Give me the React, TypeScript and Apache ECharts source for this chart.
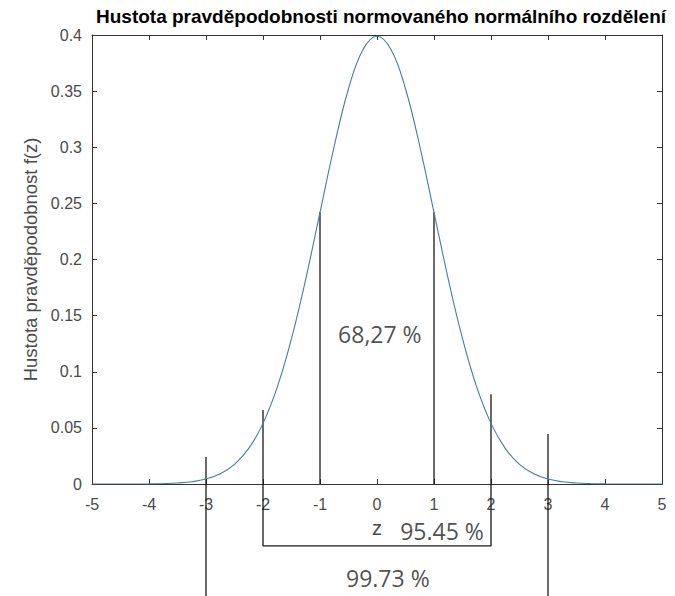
import React, { useEffect, useRef } from "react";
import * as echarts from "echarts";

const title = "Hustota pravděpodobnosti normovaného normálního rozdělení";
const yName = "Hustota pravděpodobnost f(z)";
const xName = "z";

// z values and density
const zValues = [
  -5, -4.75, -4.5, -4.25, -4, -3.75, -3.5, -3.25, -3, -2.75, -2.5, -2.25, -2, -1.75, -1.5, -1.25, -1, -0.75, -0.5, -0.25,
  0, 0.25, 0.5, 0.75, 1, 1.25, 1.5, 1.75, 2, 2.25, 2.5, 2.75, 3, 3.25, 3.5, 3.75, 4, 4.25, 4.5, 4.75, 5,
];
const density = [
  0, 0, 0, 0, 0.0001, 0.0004, 0.0009, 0.002, 0.0044, 0.0091, 0.0175, 0.0317, 0.054, 0.0863, 0.1295, 0.1826, 0.242, 0.3011, 0.3521, 0.3867,
  0.3989, 0.3867, 0.3521, 0.3011, 0.242, 0.1826, 0.1295, 0.0863, 0.054, 0.0317, 0.0175, 0.0091, 0.0044, 0.002, 0.0009, 0.0004, 0.0001, 0, 0, 0, 0,
];

// annotation lines (x, top, bottom) in data units
const sigma1X = [-1, 1];
const sigma1Top = [0.242, 0.242];
const sigma1Bottom = [0, 0];
const sigma3X = [-3, 3];
const sigma3Top = [0.024, 0.0445];
const sigma3Bottom = [-0.1, -0.1];
// bracket for ±2
const bracketX = [-2, -2, 2, 2];
const bracketY = [0.066, -0.0552, -0.0552, 0.08];

// percentage labels (x, y, text)
const pctX = [0.05, 1.14, 0.19];
const pctY = [0.134, -0.042, -0.084];
const pctText = ["68,27 %", "95.45 %", "99.73 %"];

export default function App() {
  const ref = useRef<HTMLDivElement>(null);
  useEffect(() => {
    if (!ref.current) return;
    const chart = echarts.init(ref.current, null, { renderer: "svg" });
    const axisColor = "#333333";
    const labelColor = "#4a4a4a";
    const blackLine = { color: "#1a1a1a", width: 1.3 };
    const lineSeries: any[] = [];
    sigma1X.forEach((x, i) => {
      lineSeries.push({
        type: "line",
        data: [[x, sigma1Top[i]], [x, sigma1Bottom[i]]],
        symbol: "none",
        clip: false,
        lineStyle: blackLine,
        silent: true,
        z: 3,
      });
    });
    sigma3X.forEach((x, i) => {
      lineSeries.push({
        type: "line",
        data: [[x, sigma3Top[i]], [x, sigma3Bottom[i]]],
        symbol: "none",
        clip: false,
        lineStyle: blackLine,
        silent: true,
        z: 3,
      });
    });
    lineSeries.push({
      type: "line",
      data: bracketX.map((x, i) => [x, bracketY[i]]),
      symbol: "none",
      clip: false,
      lineStyle: blackLine,
      silent: true,
      z: 3,
    });

    chart.setOption({
      animation: false,
      backgroundColor: "#ffffff",
      title: {
        text: title,
        left: 376,
        top: 2,
        textAlign: "center",
        textStyle: { fontFamily: "Liberation Sans", fontWeight: "bold", fontSize: 19, color: "#000000" },
      },
      grid: { left: 92, right: 13, top: 35, bottom: 112 },
      xAxis: [
        {
          type: "value",
          min: -5,
          max: 5,
          interval: 1,
          name: xName,
          nameLocation: "middle",
          nameGap: 34,
          nameTextStyle: { fontFamily: "Liberation Sans", fontSize: 20, color: labelColor },
          axisLine: { onZero: false, lineStyle: { color: axisColor, width: 1 } },
          axisTick: { inside: true, length: 5, lineStyle: { color: axisColor } },
          axisLabel: { margin: 12, fontFamily: "Liberation Sans", fontSize: 16, color: labelColor },
          splitLine: { show: false },
        },
        {
          type: "value",
          position: "top",
          min: -5,
          max: 5,
          interval: 1,
          axisLine: { onZero: false, lineStyle: { color: axisColor, width: 1 } },
          axisTick: { inside: true, length: 5, lineStyle: { color: axisColor } },
          axisLabel: { show: false },
          splitLine: { show: false },
        },
      ],
      yAxis: [
        {
          type: "value",
          min: 0,
          max: 0.4,
          interval: 0.05,
          name: yName,
          nameLocation: "middle",
          nameGap: 41,
          nameTextStyle: { fontFamily: "Liberation Sans", fontSize: 18.5, color: labelColor },
          axisLine: { show: true, onZero: false, lineStyle: { color: axisColor, width: 1 } },
          axisTick: { show: true, inside: true, length: 5, lineStyle: { color: axisColor } },
          axisLabel: { margin: 10, fontFamily: "Liberation Sans", fontSize: 16, color: labelColor },
          splitLine: { show: false },
        },
        {
          type: "value",
          position: "right",
          min: 0,
          max: 0.4,
          interval: 0.05,
          axisLine: { show: true, onZero: false, lineStyle: { color: axisColor, width: 1 } },
          axisTick: { show: true, inside: true, length: 5, lineStyle: { color: axisColor } },
          axisLabel: { show: false },
          splitLine: { show: false },
        },
      ],
      series: [
        {
          type: "line",
          data: zValues.map((z, i) => [z, density[i]]),
          symbol: "none",
          smooth: 0.4,
          lineStyle: { color: "#3f7fa6", width: 1.1 },
          silent: true,
          z: 4,
        },
        ...lineSeries,
        {
          type: "scatter",
          data: pctX.map((x, i) => [x, pctY[i], pctText[i]]),
          symbolSize: 0,
          clip: false,
          silent: true,
          label: {
            show: true,
            position: "inside",
            formatter: (p: any) => p.value[2],
            fontFamily: "Open Sans",
            fontSize: 23,
            color: "#222222",
          },
          z: 5,
        },
      ],
    });
    return () => chart.dispose();
  }, []);
  return <div ref={ref} style={{ position: "fixed", left: 0, top: 0, width: 675, height: 596 }} />;
}
